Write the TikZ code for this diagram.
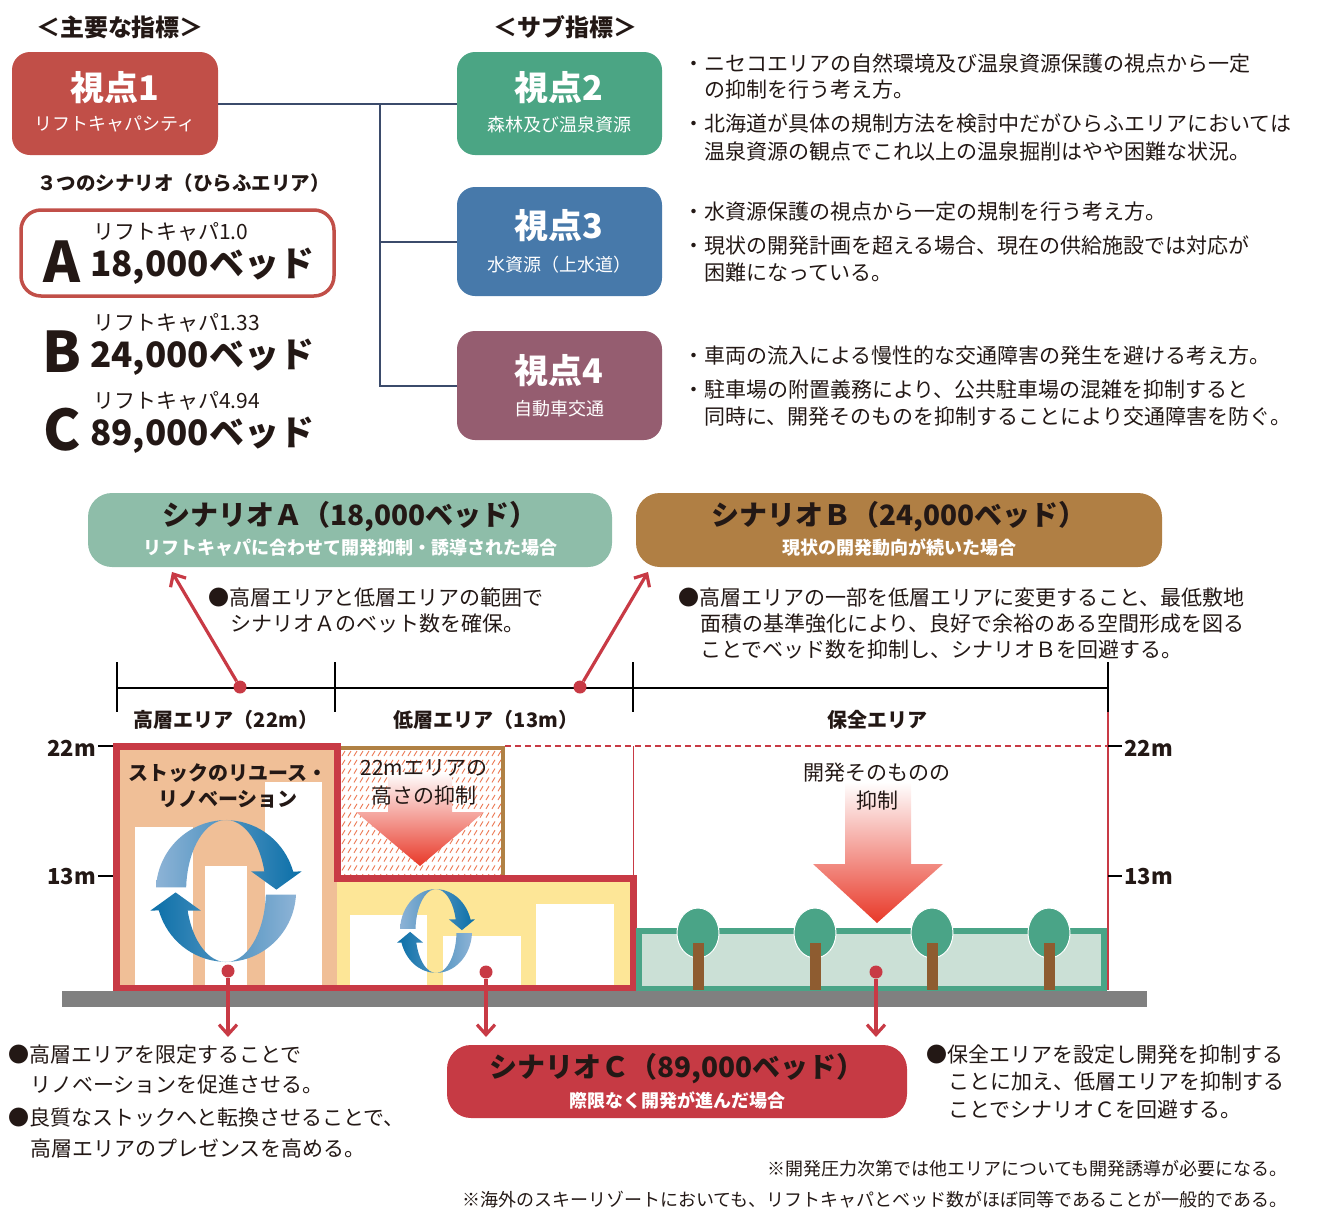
\documentclass[tikz,border=0pt]{standalone}
\usepackage{fontspec}
\setmainfont{Noto Sans CJK JP}
\usetikzlibrary{arrows.meta}

\definecolor{ptred}{HTML}{C14F48}
\definecolor{ptgreen}{HTML}{4BA584}
\definecolor{ptblue}{HTML}{4779AA}
\definecolor{ptmauve}{HTML}{955D70}
\definecolor{treeline}{HTML}{3B4B6B}
\definecolor{scnAfill}{HTML}{8EBDA9}
\definecolor{scnBfill}{HTML}{B07F44}
\definecolor{scnCfill}{HTML}{C63A44}
\definecolor{bldred}{HTML}{C83A45}
\definecolor{peach}{HTML}{F0BF97}
\definecolor{lowyellow}{HTML}{FDE697}
\definecolor{hatchbrown}{HTML}{B08144}
\definecolor{hatchred}{HTML}{EC7A55}
\definecolor{zonegreen}{HTML}{4AA487}
\definecolor{zonelight}{HTML}{CBE0D6}
\definecolor{trunk}{HTML}{8E5C30}
\definecolor{ground}{HTML}{808080}
\definecolor{cyclelight}{HTML}{8DB3D6}
\definecolor{cycledark}{HTML}{0A6FA8}
\definecolor{inkdark}{HTML}{231815}
\definecolor{arrowred}{HTML}{E83828}

\tikzset{
  turnover/.pic={
    % upper ribbon, arrow pointing down on the right
    \shade[left color=cyclelight, right color=cycledark]
      (-1,0.05) arc[start angle=177, end angle=16, radius=1]
      -- (1.08,0.276) -- (0.72,0.02) -- (0.36,0.276) -- (0.548,0.276)
      arc[start angle=16, end angle=177, x radius=0.57, y radius=1] -- cycle;
    % lower ribbon, arrow pointing up on the left
    \shade[left color=cycledark, right color=cyclelight]
      (1,-0.05) arc[start angle=-3, end angle=-164, radius=1]
      -- (-1.08,-0.276) -- (-0.72,-0.02) -- (-0.36,-0.276) -- (-0.548,-0.276)
      arc[start angle=196, end angle=357, x radius=0.57, y radius=1] -- cycle;
  }
}

\begin{document}
\begin{tikzpicture}[x=1pt, y=-1pt,
    txt/.style={inner sep=0pt, text=inkdark, font=\fontsize{21}{25}\selectfont},
    note/.style={txt, anchor=west},
    heading/.style={inner sep=0pt, text=inkdark, font=\fontsize{24}{28}\selectfont\bfseries},
    ptbox/.style={rounded corners=18pt, minimum width=205pt, inner sep=0pt},
    pttitle/.style={inner sep=0pt, text=white, font=\fontsize{34}{38}\selectfont\bfseries},
    ptsub/.style={inner sep=0pt, text=white, font=\fontsize{18}{20}\selectfont},
    treeln/.style={treeline, line width=2pt},
    scnbox/.style={rounded corners=24pt, inner sep=0pt},
    scntitle/.style={inner sep=0pt, text=inkdark, font=\fontsize{28}{32}\selectfont\bfseries},
    scnsub/.style={inner sep=0pt, text=white, font=\fontsize{18}{20}\selectfont\bfseries},
    letter/.style={inner sep=0pt, text=inkdark, font=\fontsize{56}{60}\selectfont\bfseries},
    capa/.style={note, font=\fontsize{21}{24}\selectfont},
    beds/.style={note, font=\fontsize{35}{40}\selectfont\bfseries},
    area/.style={txt, font=\fontsize{20}{24}\selectfont\bfseries},
    level/.style={txt, font=\fontsize{22}{24}\selectfont\bfseries},
    marker/.style={circle, fill=bldred, inner sep=0pt, minimum size=13pt},
    pointer/.style={bldred, line width=3.2pt, -{Straight Barb[length=10pt, width=18pt]}},
    dim/.style={black, line width=1.8pt},
    footnote/.style={txt, anchor=east, font=\fontsize{18}{20}\selectfont}]

\useasboundingbox (0,0) rectangle (1326,1210);

% Headings
\node[heading] (mainhd) at (120,27) {＜主要な指標＞};
\node[heading] (subhd) at (565,27) {＜サブ指標＞};

% Viewpoint boxes
\node[ptbox, fill=ptred, minimum width=206pt, minimum height=103pt] (v1) at (115,103.5) {};
\node[pttitle] (v1t) at (115,88) {視点1};
\node[ptsub] (v1s) at (115,124) {リフトキャパシティ};

\node[ptbox, fill=ptgreen, minimum height=103pt] (v2) at (559.5,103.5) {};
\node[pttitle] (v2t) at (559,88) {視点2};
\node[ptsub] (v2s) at (559,125) {森林及び温泉資源};

\node[ptbox, fill=ptblue, minimum height=109pt] (v3) at (559.5,241.5) {};
\node[pttitle] (v3t) at (559,226) {視点3};
\node[ptsub] (v3s) at (559,265) {水資源（上水道）};

\node[ptbox, fill=ptmauve, minimum height=109pt] (v4) at (559.5,385.5) {};
\node[pttitle] (v4t) at (559,371) {視点4};
\node[ptsub] (v4s) at (559,409) {自動車交通};

% Tree connectors
\coordinate (jn) at (380,103.5);
\draw[treeln] (v1) -- (v2);
\draw[treeln] (jn) |- (v3);
\draw[treeln] (jn) |- (v4);

% Sub-indicator notes
\node[note] (n2a) at (683,63) {・ニセコエリアの自然環境及び温泉資源保護の視点から一定};
\node[note] (n2b) at (704,90) {の抑制を行う考え方。};
\node[note] (n2c) at (683,124) {・北海道が具体の規制方法を検討中だがひらふエリアにおいては};
\node[note] (n2d) at (704,151) {温泉資源の観点でこれ以上の温泉掘削はやや困難な状況。};
\node[note] (n3a) at (683,212) {・水資源保護の視点から一定の規制を行う考え方。};
\node[note] (n3b) at (683,246) {・現状の開発計画を超える場合、現在の供給施設では対応が};
\node[note] (n3c) at (704,273) {困難になっている。};
\node[note] (n4a) at (683,356) {・車両の流入による慢性的な交通障害の発生を避ける考え方。};
\node[note] (n4b) at (683,390) {・駐車場の附置義務により、公共駐車場の混雑を抑制すると};
\node[note] (n4c) at (704,417) {同時に、開発そのものを抑制することにより交通障害を防ぐ。};

% Three scenarios
\node[txt, anchor=west, font=\fontsize{19.5}{22}\selectfont\bfseries] (three) at (37,183) {３つのシナリオ（ひらふエリア）};
\draw[ptred, line width=3.5pt, rounded corners=20pt, fill=white] (21,210) rectangle (334,296);
\node[letter] (la) at (62,262) {A};
\node[capa] (ca) at (93,232) {リフトキャパ1.0};
\node[beds] (ba) at (90,266) {18,000ベッド};
\node[letter] (lb) at (62,352) {B};
\node[capa] (cb) at (93,323) {リフトキャパ1.33};
\node[beds] (bb) at (90,357) {24,000ベッド};
\node[letter] (lc) at (62,430) {C};
\node[capa] (cc) at (93,401) {リフトキャパ4.94};
\node[beds] (bc) at (90,435) {89,000ベッド};

% Scenario A and B
\node[scnbox, fill=scnAfill, minimum width=524pt, minimum height=74pt] (scnA) at (350,530) {};
\node[scntitle] (scnAt) at (350,517) {シナリオＡ（18,000ベッド）};
\node[scnsub] (scnAs) at (350,548) {リフトキャパに合わせて開発抑制・誘導された場合};
\node[scnbox, fill=scnBfill, minimum width=526pt, minimum height=74pt] (scnB) at (899,530) {};
\node[scntitle] (scnBt) at (899,517) {シナリオＢ（24,000ベッド）};
\node[scnsub] (scnBs) at (899,548) {現状の開発動向が続いた場合};

\node[note] (na1) at (208,597) {●高層エリアと低層エリアの範囲で};
\node[note] (na2) at (230,624) {シナリオＡのベット数を確保。};
\node[note] (nb1) at (678,597) {●高層エリアの一部を低層エリアに変更すること、最低敷地};
\node[note] (nb2) at (700,624) {面積の基準強化により、良好で余裕のある空間形成を図る};
\node[note] (nb3) at (700,650) {ことでベッド数を抑制し、シナリオＢを回避する。};

% Area dimension line
\draw[dim] (117,688) -- (1108,688);
\foreach \x in {117,335,633,1108}
  \draw[dim] (\x,662) -- (\x,712);
\node[area] (ahigh) at (226,720) {高層エリア（22m）};
\node[area] (alow) at (486,720) {低層エリア（13m）};
\node[area] (akeep) at (877,720) {保全エリア};

% High-rise block
\fill[peach] (116,746) rectangle (337,990);
\fill[white] (135,827) rectangle (193,990);
\fill[white] (205,866) rectangle (247,990);
\fill[white] (265,782) rectangle (322,990);

% Low-rise block
\fill[lowyellow] (337,878) rectangle (633,990);
\fill[white] (350,915) rectangle (427,990);
\fill[white] (443,936) rectangle (521,990);
\fill[white] (536,904) rectangle (614,990);

% Hatched 22m band over the low-rise block
\fill[white] (337,746) rectangle (505,878);
\begin{scope}
  \clip (339,750) rectangle (501,876);
  \foreach \r in {0,...,14}
    \foreach \c in {0,...,28}
      \draw[hatchred, line width=0.9pt] ({336+\c*6},{756+\r*8.8}) -- ++(3,-5);
\end{scope}
\draw[hatchbrown, line width=4pt] (337,748) -- (503,748) -- (503,878);
\shade[top color=white, bottom color=arrowred]
  (388,772) -- (452,772) -- (452,812) -- (484,812) -- (420,866) -- (356,812) -- (388,812) -- cycle;
\node[txt] (hcap1) at (424,768) {22mエリアの};
\node[txt] (hcap2) at (424,796) {高さの抑制};

% Red outline of the built-up zones
\draw[bldred, line width=7pt] (116,746) -- (337,746) -- (337,878) -- (633,878) -- (633,988) -- (116,988) -- cycle;

% Renewal cycles
\begin{scope}[shift={(226,891)}, x=70pt, y=71pt]
  \pic {turnover};
\end{scope}
\begin{scope}[shift={(436,931)}, x=36pt, y=42pt]
  \pic {turnover};
\end{scope}
\node[area] (reuse1) at (228,773) {ストックのリユース・};
\node[area] (reuse2) at (228,799) {リノベーション};

% Preservation zone
\draw[zonegreen, line width=6pt, fill=zonelight] (639,931) rectangle (1104,989);
\foreach \t in {698,815,932,1049}{
  \draw[white, line width=1pt, fill=zonegreen] (\t,933) ellipse[x radius=21, y radius=25];
  \fill[trunk] (\t-5.5,943) rectangle (\t+5.5,990);
}
\shade[top color=white, bottom color=arrowred]
  (845,782) -- (911,782) -- (911,864) -- (943,864) -- (877,923) -- (813,864) -- (845,864) -- cycle;
\node[txt] (kcap1) at (877,773) {開発そのものの};
\node[txt] (kcap2) at (877,801) {抑制};

% Height guides
\draw[bldred, line width=1.5pt, dash pattern=on 6pt off 4pt] (505,746) -- (1108,746);
\draw[bldred, line width=1pt] (633,746) -- (633,878);
\draw[bldred, line width=1.2pt] (1108,712) -- (1108,990);
\draw[black, line width=1.5pt] (98,746) -- (113,746);
\draw[black, line width=1.5pt] (98,876) -- (113,876);
\draw[black, line width=1.5pt] (1108,746) -- (1122,746);
\draw[black, line width=1.5pt] (1108,876) -- (1122,876);
\node[level, anchor=east] (h22l) at (96,748) {22m};
\node[level, anchor=east] (h13l) at (96,877) {13m};
\node[level, anchor=west] (h22r) at (1124,748) {22m};
\node[level, anchor=west] (h13r) at (1124,877) {13m};

% Ground
\fill[ground] (62,991) rectangle (1147,1007);

% Pointers to the scenarios
\node[marker] (mkA) at (240,687) {};
\node[marker] (mkB) at (580,687) {};
\coordinate (tipA) at (172,572);
\coordinate (tipB) at (648,572);
\draw[pointer] (mkA) -- (tipA);
\draw[pointer] (mkB) -- (tipB);

\node[marker] (mkH) at (228,971) {};
\node[marker] (mkL) at (486,972) {};
\node[marker] (mkK) at (876,972) {};
\coordinate (tipH) at (228,1037);
\coordinate (tipL) at (486,1037);
\coordinate (tipK) at (876,1037);
\draw[pointer] (mkH) -- (tipH);
\draw[pointer] (mkL) -- (tipL);
\draw[pointer] (mkK) -- (tipK);

% Scenario C and bottom notes
\node[scnbox, fill=scnCfill, minimum width=460pt, minimum height=73pt] (scnC) at (677,1081.5) {};
\node[scntitle] (scnCt) at (677,1069) {シナリオＣ（89,000ベッド）};
\node[scnsub] (scnCs) at (677,1100) {際限なく開発が進んだ場合};

\node[note] (nh1) at (8,1055) {●高層エリアを限定することで};
\node[note] (nh2) at (30,1085) {リノベーションを促進させる。};
\node[note] (nh3) at (8,1118) {●良質なストックへと転換させることで、};
\node[note] (nh4) at (30,1148) {高層エリアのプレゼンスを高める。};

\node[note] (nk1) at (926,1055) {●保全エリアを設定し開発を抑制する};
\node[note] (nk2) at (948,1082) {ことに加え、低層エリアを抑制する};
\node[note] (nk3) at (948,1109) {ことでシナリオＣを回避する。};

\node[footnote] (fn1) at (1288,1169) {※開発圧力次第では他エリアについても開発誘導が必要になる。};
\node[footnote] (fn2) at (1288,1200) {※海外のスキーリゾートにおいても、リフトキャパとベッド数がほぼ同等であることが一般的である。};

\end{tikzpicture}
\end{document}
